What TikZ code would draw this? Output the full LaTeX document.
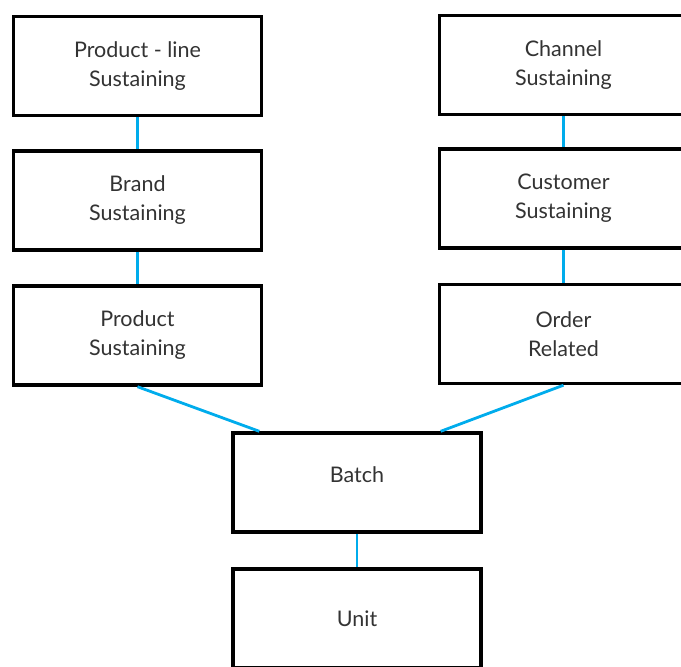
\documentclass[tikz,border=0pt]{standalone}
\usepackage{fontspec}
\setmainfont{Lato}
\usetikzlibrary{calc}
\definecolor{lnk}{RGB}{0,172,236}
\colorlet{txt}{black!80}
\tikzset{
    level/.style={draw=black,line width=3.4pt,fill=white,minimum width=248pt,minimum height=99pt,
        align=center,text=txt,font=\fontsize{21.5}{29}\selectfont,inner sep=0pt},
    link/.style={lnk,line width=2.8pt}
}
\begin{document}
\begin{tikzpicture}[x=1pt,y=1pt]
            \useasboundingbox (0,0) rectangle (681,-667);
            \clip (0,0) rectangle (681,-667);
            % left column
            \node [level] (pline) at (137.5,-66) {Product - line\\Sustaining};
            \node [level] (brand) at (137.5,-200.5) {Brand\\Sustaining};
            \node [level] (prod) at (137.5,-335.5) {Product\\Sustaining};
            % right column
            \node [level] (chan) at (563.5,-65) {Channel\\Sustaining};
            \node [level] (cust) at (563.5,-198.5) {Customer\\Sustaining};
            \node [level] (order) at (563.5,-334) {Order\\Related};
            % bottom
            \node [level,text depth=16pt] (batch) at (357,-482.5) {Batch};
            \node [level] (unit) at (357,-618.5) {Unit};
            \coordinate (bl) at ($(batch.north west)+(28,0)$);
            \coordinate (br) at ($(batch.north east)+(-42,0)$);
            \draw [link] (pline) -- (brand);
            \draw [link] (brand) -- (prod);
            \draw [link] (chan) -- (cust);
            \draw [link] (cust) -- (order);
            \draw [link] (prod.south) -- (bl);
            \draw [link] (order.south) -- (br);
            \draw [link] (batch) -- (unit);
        \end{tikzpicture}
\end{document}
